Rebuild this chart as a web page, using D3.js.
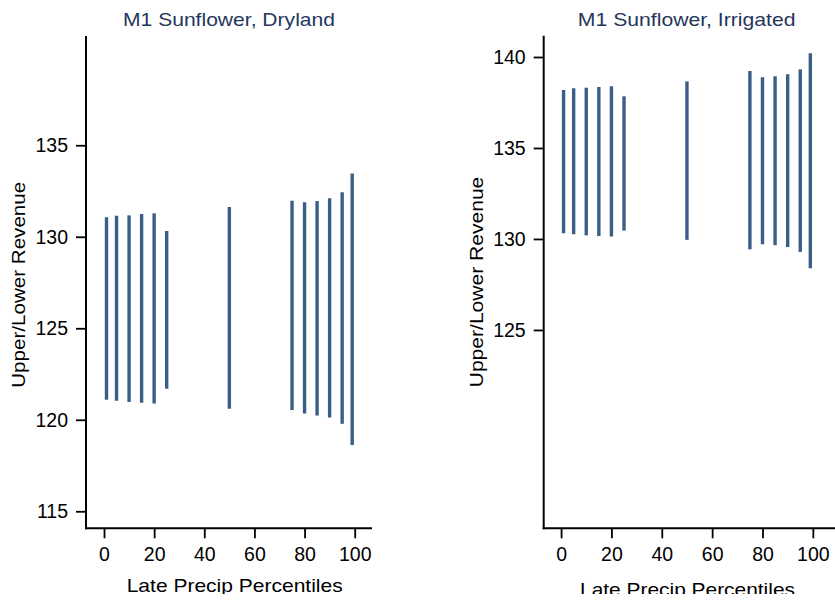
<!DOCTYPE html>
<html>
<head>
<meta charset="utf-8">
<script src="https://cdn.jsdelivr.net/npm/d3@7"></script>
<style>
  html, body { margin: 0; padding: 0; background: #fff; }
  svg { display: block; }
  text { font-family: "Liberation Sans", Arial, sans-serif; }
</style>
</head>
<body>
<svg id="chart" width="835" height="602"></svg>
<script>
// ---- data ----
const percentiles = [1, 5, 10, 15, 20, 25, 50, 75, 80, 85, 90, 95, 99];
const drylandUpper = [131.06, 131.15, 131.17, 131.24, 131.28, 130.31, 131.62, 131.97, 131.88, 131.95, 132.10, 132.43, 133.46];
const drylandLower = [121.09, 121.04, 120.97, 120.93, 120.89, 121.69, 120.60, 120.53, 120.34, 120.23, 120.12, 119.78, 118.62];
const irrigatedUpper = [138.19, 138.28, 138.31, 138.35, 138.39, 137.84, 138.66, 139.23, 138.88, 138.94, 139.05, 139.32, 140.20];
const irrigatedLower = [130.31, 130.26, 130.20, 130.16, 130.13, 130.46, 129.95, 129.43, 129.71, 129.66, 129.56, 129.29, 128.39];
const xTicks = [0, 20, 40, 60, 80, 100];
const drylandYTicks = [115, 120, 125, 130, 135];
const irrigatedYTicks = [125, 130, 135, 140];
const titles = ["M1 Sunflower, Dryland", "M1 Sunflower, Irrigated"];
const xTitle = "Late Precip Percentiles";
const yTitle = "Upper/Lower Revenue";

const svg = d3.select("#chart");
const barColor = "#3a5f86";
const titleColor = "#25365c";

const panels = [
  { title: titles[0], upper: drylandUpper, lower: drylandLower, yTicks: drylandYTicks,
    xDomain: [-7.18, 106.9], xRange: [86, 372], yDomain: [114.07, 140.97], yRange: [528.3, 36],
    titleX: 229, titleLen: 212, xtX: 234.7, xtY: 592, xtLen: 216, ytX: 25.4, ytY: 284.8, ytLen: 206 },
  { title: titles[1], upper: irrigatedUpper, lower: irrigatedLower, yTicks: irrigatedYTicks,
    xDomain: [-6.9, 108.8], xRange: [543.7, 835], yDomain: [114.1, 141.17], yRange: [528.3, 35.7],
    titleX: 686.7, titleLen: 217.7, xtX: 687.5, xtY: 596, xtLen: 215, ytX: 482.7, ytY: 282, ytLen: 210.6 }
];

panels.forEach(p => {
  const x = d3.scaleLinear().domain(p.xDomain).range(p.xRange);
  const y = d3.scaleLinear().domain(p.yDomain).range(p.yRange);
  const g = svg.append("g");

  // bars (range spikes)
  g.selectAll("line.bar")
    .data(percentiles.map((v, i) => ({ x: v, lo: p.lower[i], hi: p.upper[i] })))
    .enter().append("line")
    .attr("class", "bar")
    .attr("x1", d => x(d.x)).attr("x2", d => x(d.x))
    .attr("y1", d => y(d.lo)).attr("y2", d => y(d.hi))
    .attr("stroke", barColor).attr("stroke-width", 3.4);

  // y axis
  const ya = g.append("g")
    .attr("transform", `translate(${p.xRange[0]},0)`)
    .call(d3.axisLeft(y).tickValues(p.yTicks).tickSize(10).tickPadding(8).tickSizeOuter(0));
  ya.select(".domain").remove();
  ya.selectAll(".tick line").attr("stroke", "#000").attr("stroke-width", 1.8);
  ya.selectAll(".tick text").attr("font-size", 19.5).attr("fill", "#000")
    .attr("font-family", "'Liberation Sans', Arial, sans-serif");

  // x axis
  const xa = g.append("g")
    .attr("transform", `translate(0,${p.yRange[0]})`)
    .call(d3.axisBottom(x).tickValues(xTicks).tickSize(10).tickPadding(9).tickSizeOuter(0));
  xa.select(".domain").remove();
  xa.selectAll(".tick line").attr("stroke", "#000").attr("stroke-width", 1.8);
  xa.selectAll(".tick text").attr("font-size", 19.5).attr("fill", "#000")
    .attr("font-family", "'Liberation Sans', Arial, sans-serif");

  // axis lines
  g.append("line")
    .attr("x1", p.xRange[0]).attr("x2", p.xRange[0])
    .attr("y1", p.yRange[1]).attr("y2", p.yRange[0] + 1)
    .attr("stroke", "#000").attr("stroke-width", 2);
  g.append("line")
    .attr("x1", p.xRange[0] - 1).attr("x2", p.xRange[1])
    .attr("y1", p.yRange[0]).attr("y2", p.yRange[0])
    .attr("stroke", "#000").attr("stroke-width", 2);

  // title
  g.append("text")
    .attr("x", p.titleX).attr("y", 25.7)
    .attr("text-anchor", "middle")
    .attr("font-size", 18.5)
    .attr("fill", titleColor)
    .attr("textLength", p.titleLen).attr("lengthAdjust", "spacingAndGlyphs")
    .text(p.title);

  // x title
  g.append("text")
    .attr("x", p.xtX).attr("y", p.xtY)
    .attr("text-anchor", "middle")
    .attr("font-size", 17.7)
    .attr("fill", "#000")
    .attr("textLength", p.xtLen).attr("lengthAdjust", "spacingAndGlyphs")
    .text(xTitle);

  // y title
  g.append("text")
    .attr("transform", `translate(${p.ytX},${p.ytY}) rotate(-90)`)
    .attr("text-anchor", "middle")
    .attr("font-size", 17.7)
    .attr("fill", "#000")
    .attr("textLength", p.ytLen).attr("lengthAdjust", "spacingAndGlyphs")
    .text(yTitle);
});

// bottom crop of the original picture
svg.append("rect").attr("x", 0).attr("y", 594).attr("width", 835).attr("height", 8).attr("fill", "#fff");
</script>
</body>
</html>
